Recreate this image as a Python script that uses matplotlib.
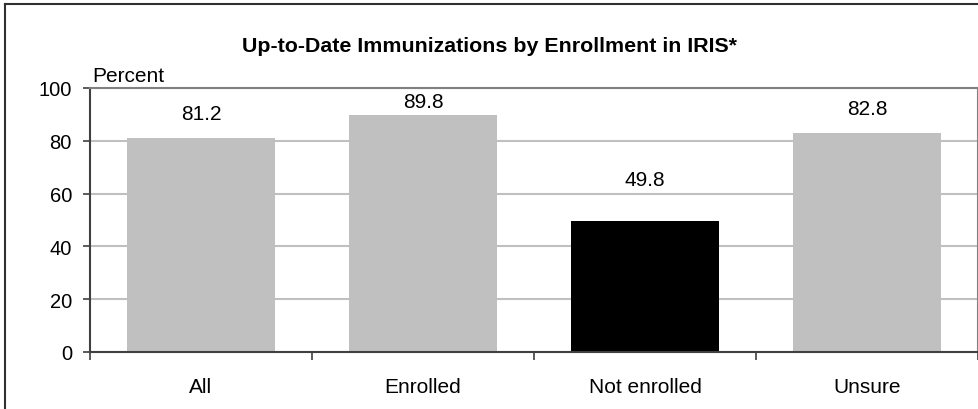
import matplotlib.pyplot as plt
from matplotlib.lines import Line2D

categories = ["All", "Enrolled", "Not enrolled", "Unsure"]
percent = [81.2, 89.8, 49.8, 82.8]
bar_colors = ["#c0c0c0", "#c0c0c0", "#000000", "#c0c0c0"]
# label offsets above the bars (data units), as placed in the original
label_offsets = [9.3, 4.9, 15.7, 9.6]

plt.rcParams["font.family"] = ["Liberation Sans", "DejaVu Sans"]

fig = plt.figure(figsize=(9.79, 4.10), dpi=100)
ax = fig.add_axes([90 / 979, 1 - 353 / 410, 888 / 979, 264 / 410])

x = list(range(len(categories)))
ax.bar(x, percent, width=0.67, color=bar_colors, zorder=2)
for xi, v, off in zip(x, percent, label_offsets):
    ax.text(xi, v + off, f"{v:.1f}", ha="center", va="center", fontsize=15)

ax.set_xlim(-0.5, len(categories) - 0.5)
ax.set_ylim(0, 100)
ax.set_yticks(range(0, 101, 20))
ax.yaxis.grid(True, color="#c0c0c0", linewidth=1.5, zorder=0)
ax.set_axisbelow(True)

ax.set_xticks(x)
ax.set_xticklabels(categories, fontsize=15)
ax.tick_params(axis="x", length=0, pad=18)
ax.set_xticks([i + 0.5 for i in range(-1, len(categories))], minor=True)
ax.tick_params(axis="x", which="minor", length=6, width=1.2, color="#404040")
ax.tick_params(axis="y", length=5, width=1.2, color="#404040", pad=8, labelsize=14.5)

for side in ["top", "right"]:
    ax.spines[side].set_color("#808080")
    ax.spines[side].set_linewidth(1.5)
for side in ["left", "bottom"]:
    ax.spines[side].set_color("#404040")
    ax.spines[side].set_linewidth(1.5)

ax.text(0.002, 1.01, "Percent", transform=ax.transAxes, ha="left", va="bottom", fontsize=15)

fig.text(0.5, 1 - 47 / 410, "Up-to-Date Immunizations by Enrollment in IRIS*",
         ha="center", va="center", fontsize=15.4, fontweight="bold")

# outer frame
fig.add_artist(Line2D([5 / 979, 5 / 979], [0, 1 - 5 / 410], transform=fig.transFigure,
                      color="#303030", linewidth=1.5))
fig.add_artist(Line2D([5 / 979, 1], [1 - 5 / 410, 1 - 5 / 410], transform=fig.transFigure,
                      color="#303030", linewidth=1.5))

plt.savefig("out.png", dpi=100)
